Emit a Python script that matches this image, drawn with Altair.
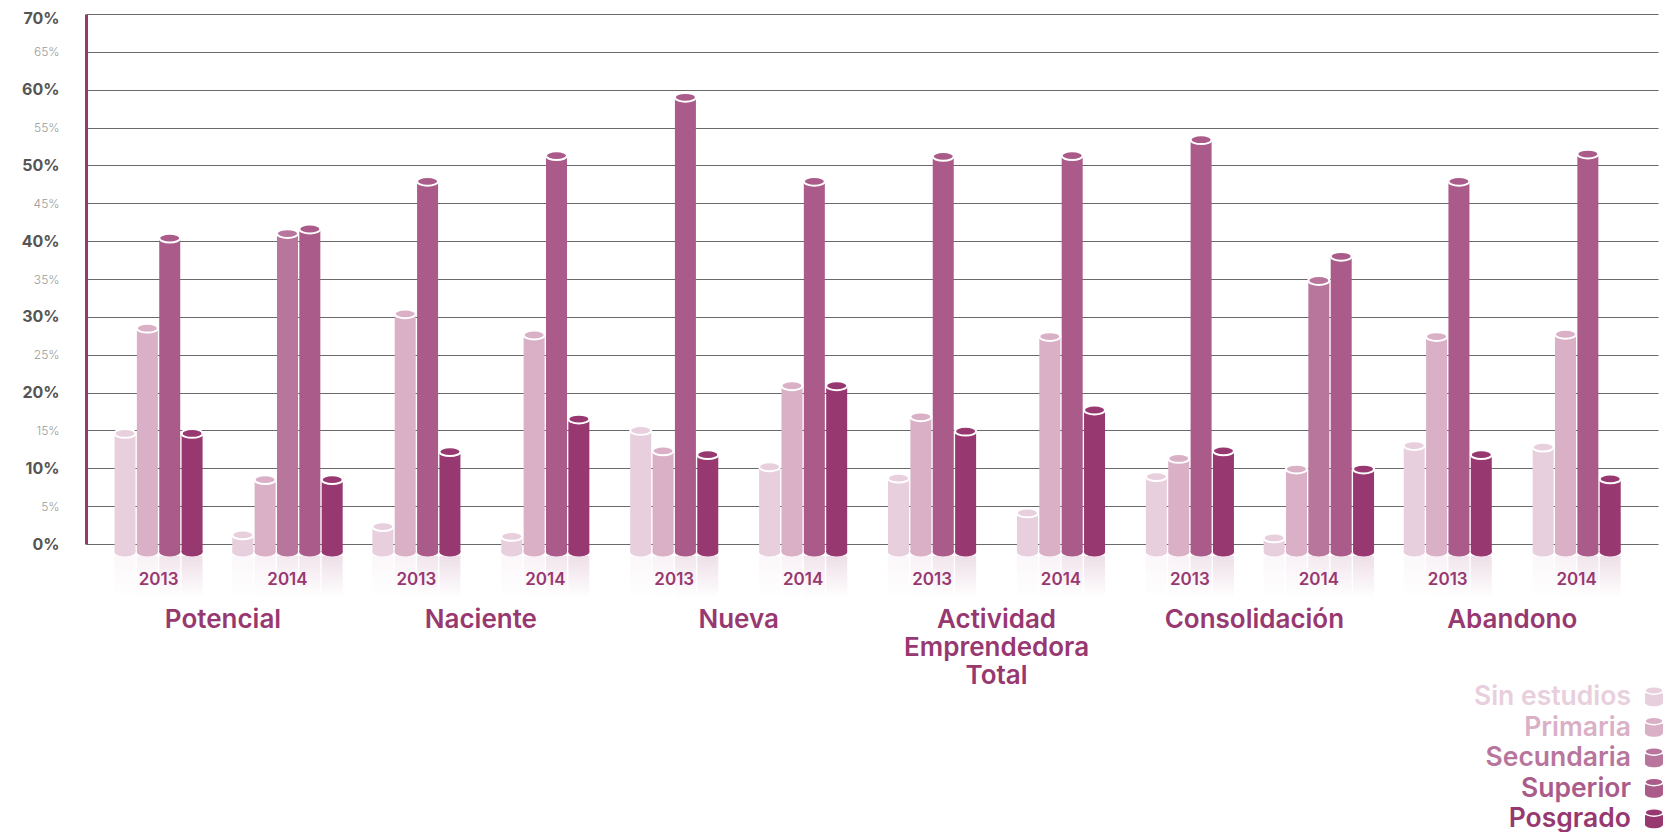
import altair as alt
import pandas as pd

# ---------------- data ----------------
categories = ["Potencial", "Naciente", "Nueva", "Actividad\nEmprendedora\nTotal", "Consolidación", "Abandono"]
years = ["2013", "2014"]
levels = ["Sin estudios", "Primaria", "Secundaria", "Superior", "Posgrado"]
level_colors = ["#e8cfdd", "#dab0c7", "#b8769c", "#aa5b8a", "#983870"]

# one value per (category, year) group, in order Pot13, Pot14, Nac13, Nac14, ...
sin_estudios = [14.6, 1.2, 2.3, 1.0, 15.0, 10.2, 8.7, 4.1, 8.9, 0.8, 13.0, 12.8]
primaria = [28.5, 8.5, 30.4, 27.6, 12.3, 20.9, 16.8, 27.4, 11.3, 9.9, 27.4, 27.7]
secundaria = [None, 41.0, None, None, None, None, None, None, None, 34.8, None, None]
superior = [40.4, 41.6, 47.9, 51.3, 59.0, 47.9, 51.2, 51.3, 53.4, 38.0, 47.9, 51.5]
posgrado = [14.6, 8.5, 12.2, 16.5, 11.8, 20.9, 14.9, 17.7, 12.3, 9.9, 11.8, 8.6]

series = [sin_estudios, primaria, secundaria, superior, posgrado]

# ---------------- layout constants ----------------
W, H = 1572, 530
SLOT_PX = 129.74
BAR_STEP = 22.5 / SLOT_PX
BAR_W = 21
BASE = 538  # pixel y of the cylinder bases
CAP = "M-1,0A1,0.42,0,1,0,1,0A1,0.42,0,1,0,-1,0Z"
CYL = "M-1,-0.42A1,0.42,0,0,1,1,-0.42L1,0.5A1,0.42,0,0,1,-1,0.5Z"
PURPLE = "#983870"
FONT = "Inter"

rows, groups, cats = [], [], []
g = 0
for ci, cat in enumerate(categories):
    for yr in years:
        present = [(levels[li], s[g]) for li, s in enumerate(series) if s[g] is not None]
        n = len(present)
        for r, (lvl, val) in enumerate(present):
            rows.append({"level": lvl, "value": val, "pos": g + (r - (n - 1) / 2) * BAR_STEP,
                         "group": f"{cat} {yr}"})
        groups.append({"pos": g, "year": yr})
        g += 1
    cats.append({"pos": 2 * ci + 0.5, "cat": cat})

df = pd.DataFrame(rows)
gdf = pd.DataFrame(groups)
cdf = pd.DataFrame(cats)

major = "datum.value % 10 == 0"
x = alt.X("pos:Q", scale=alt.Scale(domain=[-0.524, 11.592], nice=False, zero=False), axis=None)
color = alt.Color("level:N", scale=alt.Scale(domain=levels, range=level_colors), legend=None)
yaxis = alt.Axis(
    values=list(range(0, 75, 5)),
    labelExpr="datum.value + '%'",
    labelOverlap=False,
    grid=True, gridColor="#6a6a6a", gridWidth=1.2,
    domainColor=PURPLE, domainWidth=3,
    ticks=False, labelPadding=27, labelFont=FONT,
    labelFontSize={"condition": {"test": major, "value": 16}, "value": 12},
    labelFontWeight={"condition": {"test": major, "value": "bold"}, "value": 300},
    labelColor={"condition": {"test": major, "value": "#555555"}, "value": "#9a9a9a"},
    labelOffset={"condition": {"test": "datum.value == 70", "value": 4}, "value": 0},
    title=None,
)
y = alt.Y("value:Q", scale=alt.Scale(domain=[0, 70], nice=False), axis=yaxis, stack=None)

base = alt.Chart(df)

reflect = base.mark_bar(size=BAR_W, orient="vertical", opacity=0.16).encode(
    x=x, y=alt.value(BASE + 4), y2=alt.value(BASE + 44), color=color)

fade = alt.Chart(pd.DataFrame({"a": [0]})).mark_rect(
    color=alt.LinearGradient(
        gradient="linear",
        stops=[alt.GradientStop(color="rgba(255,255,255,0)", offset=0),
               alt.GradientStop(color="#ffffff", offset=1)],
        x1=0, x2=0, y1=0, y2=1)
).encode(x=alt.value(0), x2=alt.value(W), y=alt.value(BASE + 4), y2=alt.value(BASE + 46))

bars = base.mark_bar(size=BAR_W, orient="vertical").encode(
    x=x, y=y, y2=alt.value(BASE), color=color)

bottoms = base.mark_point(shape=CAP, size=BAR_W ** 2, filled=True, opacity=1, strokeWidth=0).encode(
    x=x, y=alt.value(BASE), color=color)

caps = base.mark_point(shape=CAP, size=BAR_W ** 2, filled=True, opacity=1,
                       stroke="white", strokeWidth=2).encode(
    x=x, y=y, color=color)

year_text = alt.Chart(gdf).mark_text(
    font=FONT, fontSize=17, fontWeight=600, color=PURPLE, baseline="middle"
).encode(x=x, y=alt.value(566), text="year:N")

cat_text = alt.Chart(cdf).mark_text(
    font=FONT, fontSize=26, fontWeight=600, color=PURPLE, baseline="top",
    lineBreak="\n", lineHeight=28, align="center"
).encode(x=x, y=alt.value(593), text="cat:N")

legend_layers = []
for i, (lvl, col) in enumerate(zip(levels, level_colors)):
    ldf = pd.DataFrame({"level": [lvl]})
    ly = 683 + i * 30.5
    legend_layers.append(alt.Chart(ldf).mark_text(
        font=FONT, fontSize=26.5, fontWeight=600, color=col, align="right", baseline="middle"
    ).encode(x=alt.value(1545), y=alt.value(ly), text="level:N"))
    legend_layers.append(alt.Chart(ldf).mark_point(
        shape=CYL, size=324, filled=True, opacity=1, color=col, strokeWidth=0
    ).encode(x=alt.value(1568), y=alt.value(ly + 1)))
    legend_layers.append(alt.Chart(ldf).mark_point(
        shape=CAP, size=324, filled=True, opacity=1, color=col, stroke="white", strokeWidth=1.5
    ).encode(x=alt.value(1568), y=alt.value(ly + 1 - 7.5)))

chart = alt.layer(
    reflect, fade, bars, bottoms, caps, year_text, cat_text, *legend_layers
).properties(
    width=W, height=H,
    padding={"left": 78, "top": 6, "right": 5, "bottom": 288},
    autosize=alt.AutoSizeParams(type="none"),
).configure_view(stroke=None)

chart.save("out.html", embed_options={"renderer": "svg", "actions": False})
